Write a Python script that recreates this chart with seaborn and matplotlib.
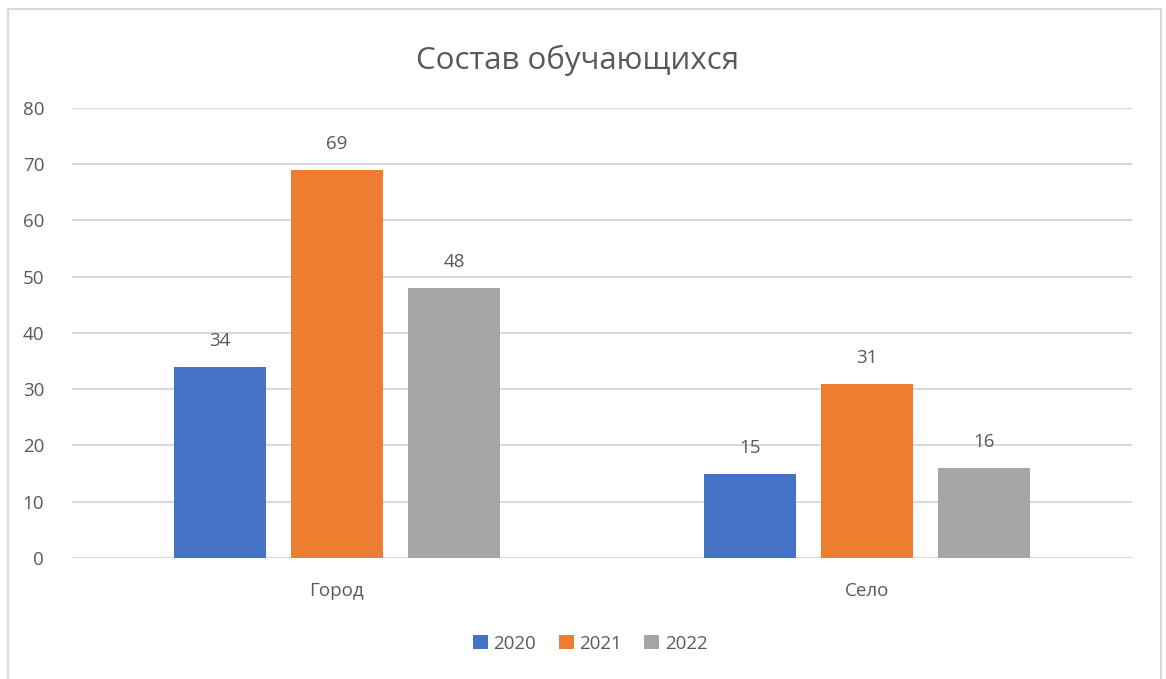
import pandas as pd
import matplotlib.pyplot as plt
import seaborn as sns
from matplotlib.patches import Rectangle

# Данные
categories = ["Город", "Село"]
years = ["2020", "2021", "2022"]
values_2020 = [34, 15]
values_2021 = [69, 31]
values_2022 = [48, 16]
colors = ["#4472C4", "#ED7D31", "#A5A5A5"]

df = pd.DataFrame({
    "cat": categories * 3,
    "year": [y for y in years for _ in categories],
    "value": values_2020 + values_2021 + values_2022,
})

sns.set_theme(style="white")
plt.rcParams['font.family'] = ['Open Sans', 'DejaVu Sans']
text_color = "#595959"

fig = plt.figure(figsize=(11.66, 6.79), dpi=100)
ax = fig.add_axes([0.0617, 0.1782, 0.909, 0.663])

sns.barplot(data=df, x="cat", y="value", hue="year", palette=colors,
            width=0.663, gap=0.214, ax=ax, saturation=1, legend=True,
            linewidth=0)

ax.set_xlim(-0.5, 1.5)
ax.set_ylim(0, 80)
ax.set_yticks(range(0, 81, 10))
ax.grid(axis="y", color="#d9d9d9", linewidth=1.5)
ax.set_axisbelow(True)
for s in ax.spines.values():
    s.set_visible(False)
ax.tick_params(axis="both", length=0, labelsize=13.5, colors=text_color)
ax.tick_params(axis="x", pad=17)
ax.tick_params(axis="y", pad=20)
ax.set_xlabel("")
ax.set_ylabel("")

for cont in ax.containers:
    ax.bar_label(cont, padding=12, fontsize=13.5, color=text_color)

ax.set_title("Состав обучающихся", fontsize=22.5, color=text_color,
             pad=28, x=0.477)

handles, labels = ax.get_legend_handles_labels()
ax.legend(handles, labels, loc="center", bbox_to_anchor=(0.489, -0.19),
          ncol=3, frameon=False, fontsize=13.5, labelcolor=text_color,
          handlelength=0.8, handleheight=0.8, handletextpad=0.3,
          columnspacing=1.2)

# рамка диаграммы
fig.patches.append(Rectangle((8 / 1166, -0.05), 1153 / 1166, 1.05 - 9 / 679,
                             transform=fig.transFigure, fill=False,
                             edgecolor="#d9d9d9", linewidth=1.5))

fig.savefig("out.png", dpi=100)
